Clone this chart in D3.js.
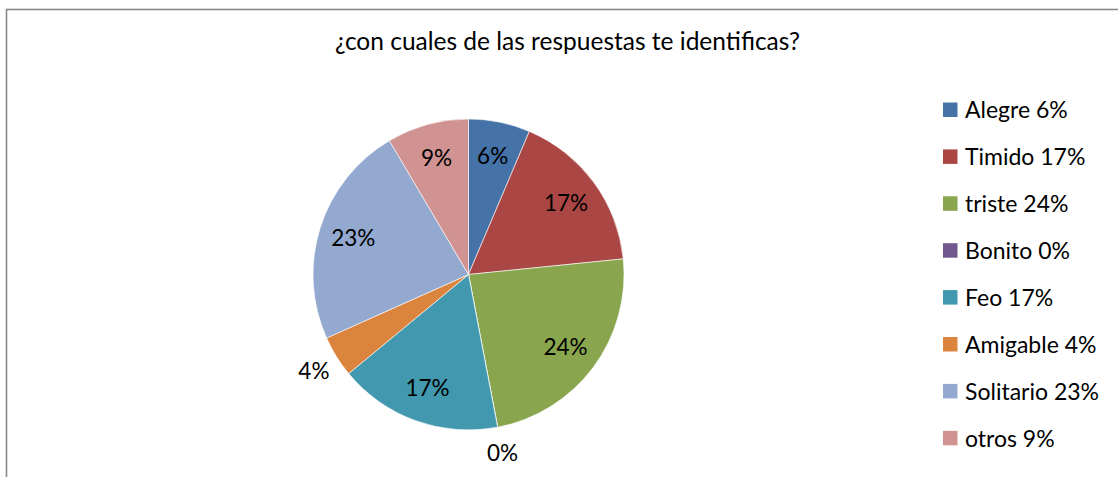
<!DOCTYPE html>
<html>
<head>
<meta charset="utf-8">
<script src="https://cdn.jsdelivr.net/npm/d3@7"></script>
<style>
  body { margin: 0; background: #fff; }
  text { font-family: Lato, "Open Sans", sans-serif; fill: #000; }
</style>
</head>
<body>
<div id="viz"></div>
<script>
// data
const categories = ["Alegre", "Timido", "triste", "Bonito", "Feo", "Amigable", "Solitario", "otros"];
const values     = [6.4, 17.0, 23.6, 0, 17.0, 4.3, 23.2, 8.5];
const colors     = ["#4572A7", "#AA4643", "#89A54E", "#71588F", "#4198AF", "#DB843D", "#93A9CF", "#D19392"];
const title      = "¿con cuales de las respuestas te identificas?";

const width = 1118, height = 477,
      cx = 468.5, cy = 274.5, radius = 155.5;

const data = categories.map((name, i) => ({name, value: values[i], color: colors[i]}));
const pct = v => Math.round(v) + "%";

const svg = d3.select("#viz").append("svg")
  .attr("width", width)
  .attr("height", height);

// chart border
svg.append("rect")
  .attr("x", 6.5).attr("y", 9.5)
  .attr("width", 1300).attr("height", 700)
  .style("fill", "none")
  .style("stroke", "#898989")
  .style("stroke-width", 1.6);

svg.append("text")
  .attr("x", 567.5).attr("y", 50)
  .attr("text-anchor", "middle")
  .style("font-size", "24.5px")
  .text(title);

const pie = d3.pie().sort(null).value(d => d.value);
const arcs = pie(data);
const arc = d3.arc().innerRadius(0).outerRadius(radius);
const inLabel = d3.arc().innerRadius(121).outerRadius(121);
const outLabel = d3.arc().innerRadius(182).outerRadius(182);

const g = svg.append("g").attr("transform", `translate(${cx},${cy})`);

g.selectAll("path")
  .data(arcs)
  .join("path")
  .attr("d", arc)
  .style("fill", d => d.data.color)
  .style("stroke", "#fff")
  .style("stroke-width", 0.6);

g.selectAll("text.lbl")
  .data(arcs)
  .join("text")
  .attr("class", "lbl")
  .attr("transform", d => `translate(${(d.data.value < 5 ? outLabel : inLabel).centroid(d)})`)
  .attr("text-anchor", "middle")
  .attr("dy", "0.36em")
  .style("font-size", "22.5px")
  .text(d => pct(d.data.value));

// legend
const legend = svg.append("g").attr("transform", "translate(943,110)");
const row = legend.selectAll("g")
  .data(data)
  .join("g")
  .attr("transform", (d, i) => `translate(0,${i * 46.9})`);

row.append("rect")
  .attr("x", 0).attr("y", -7.5)
  .attr("width", 14.5).attr("height", 14.5)
  .style("fill", d => d.color);

row.append("text")
  .attr("x", 22).attr("dy", "0.36em")
  .style("font-size", "23px")
  .text(d => d.name + " " + pct(d.value));
</script>
</body>
</html>
